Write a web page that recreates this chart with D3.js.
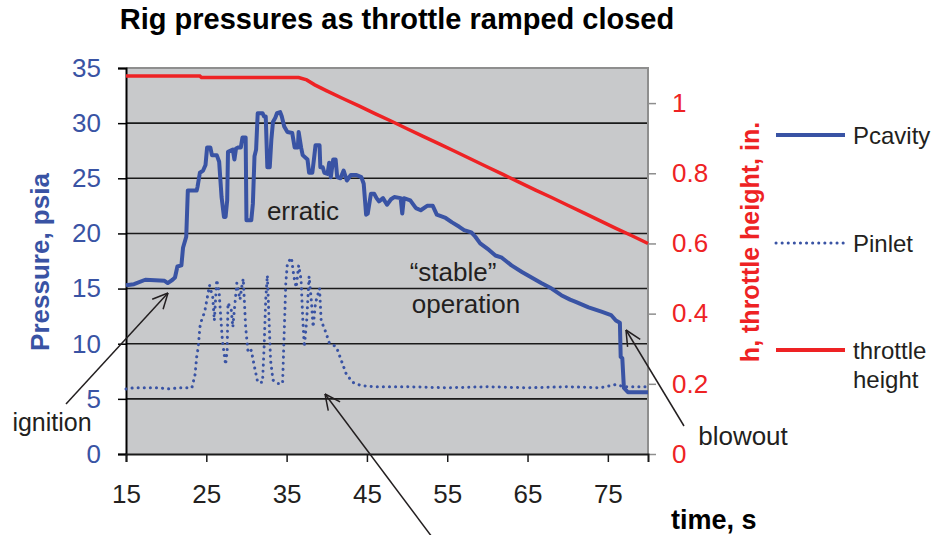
<!DOCTYPE html>
<html>
<head>
<meta charset="utf-8">
<script src="https://cdn.jsdelivr.net/npm/d3@7"></script>
<style>
  body { margin: 0; background: #fff; }
  svg { font-family: "Liberation Sans", Arial, sans-serif; }
</style>
</head>
<body>
<div id="chart"></div>
<script>
// values
const pcTime = [15.0,16.0,17.4,19.8,20.2,20.8,21.1,21.4,21.9,22.1,22.5,22.7,23.8,23.9,24.2,24.6,24.9,25.1,25.5,25.7,26.3,26.6,26.9,27.2,27.4,27.6,27.7,28.3,28.5,28.7,29.0,29.3,29.5,29.9,30.0,30.6,30.8,31.0,31.2,31.4,32.0,32.2,32.4,32.6,32.9,33.1,33.3,33.6,33.8,34.2,34.4,34.7,35.1,35.7,36.0,36.4,36.5,36.8,37.0,37.6,37.8,38.2,38.4,38.6,39.1,39.2,39.5,39.7,40.1,40.3,40.5,40.8,41.1,41.3,41.7,42.1,42.5,43.0,43.7,44.3,44.6,44.9,45.1,45.5,45.9,46.2,46.5,47.0,47.5,48.0,48.4,49.2,49.4,49.6,50.4,51.1,51.7,52.5,53.2,53.7,54.8,55.6,56.5,57.1,58.0,58.5,59.1,60.2,61.0,61.8,63.0,64.3,65.5,66.7,68.0,69.2,70.3,71.0,72.6,74.2,75.4,76.0,76.5,76.6,76.8,77.0,77.5,80.0];
const pcValue = [15.3,15.4,15.8,15.7,15.5,15.8,16.0,17.0,17.1,18.7,19.7,23.9,23.9,24.2,25.5,25.7,26.2,27.8,27.8,27.1,27.1,26.5,23.3,21.5,21.5,23.0,27.4,27.6,26.7,27.7,27.8,27.8,28.7,28.7,21.2,21.2,22.7,27.0,27.6,30.9,30.9,30.6,30.6,26.0,26.0,28.5,30.1,30.5,30.9,31.0,30.6,29.7,29.2,29.1,27.8,27.8,29.2,27.8,27.1,26.7,25.5,25.5,26.7,28.0,28.0,26.0,26.0,25.5,25.4,26.4,25.1,26.7,26.7,25.1,25.0,25.7,24.8,25.3,25.3,25.1,24.5,21.7,21.8,23.6,23.6,23.2,22.9,23.2,22.6,23.1,23.3,23.2,21.8,23.2,23.0,22.3,22.1,22.5,22.5,21.7,21.4,21.0,20.6,20.3,20.1,19.7,19.1,18.5,18.0,17.8,17.1,16.5,16.0,15.5,15.0,14.4,14.0,13.8,13.3,12.9,12.6,12.1,11.9,8.8,8.7,6.0,5.6,5.6];

const piTime = [15.0,16.0,17.5,19.0,20.5,21.5,23.2,23.6,23.8,24.0,24.2,24.4,24.8,25.0,25.4,25.8,26.0,26.3,26.6,26.8,27.0,27.4,27.6,27.7,28.1,28.3,28.5,28.8,29.2,29.4,29.6,29.9,30.2,30.6,31.0,31.4,32.0,32.2,32.4,32.6,32.8,33.0,33.3,33.9,34.5,34.7,34.9,35.1,35.6,35.9,36.2,36.5,36.8,37.0,37.2,37.5,37.8,38.1,38.3,38.6,39.1,39.3,39.9,40.3,41.2,41.8,42.4,43.2,44.3,46.0,50.0,55.0,60.0,65.0,70.0,74.0,76.0,77.0,80.0];
const piValue = [5.9,6.0,6.0,6.0,5.9,6.0,6.0,7.2,8.8,9.7,11.5,12.1,12.9,13.7,15.3,14.2,12.1,15.8,14.6,12.4,10.3,8.1,9.4,13.7,13.1,11.5,13.1,15.5,14.0,15.1,15.9,11.5,9.2,9.4,7.9,6.5,6.5,9.7,14.0,16.2,12.4,8.5,6.7,6.4,6.4,11.0,15.5,17.3,17.8,16.1,15.1,17.1,15.8,12.4,9.7,12.1,16.1,13.7,11.5,13.7,15.0,12.1,11.0,10.1,9.7,8.5,7.3,6.5,6.2,6.1,6.1,6.0,6.1,6.0,6.1,6.0,6.3,6.1,6.1];

const thTime = [15,24.2,24.4,36.5,37.5,38.5,40,42,44,46,48,50,52,54,56,58,60,62,64,66,68,70,72,74,76,78,80];
const thValue = [1.077,1.077,1.073,1.073,1.066,1.052,1.035,1.013,0.992,0.970,0.949,0.927,0.905,0.884,0.862,0.840,0.818,0.796,0.774,0.752,0.731,0.709,0.687,0.665,0.643,0.622,0.600];

const xTicks = [15,25,35,45,55,65,75];
const yTicks = [0,5,10,15,20,25,30,35];
const y2Ticks = [0,0.2,0.4,0.6,0.8,1];
const y2Labels = ["0","0.2","0.4","0.6","0.8","1"];

const W = 934, H = 535;
const margin = { top: 68, right: 286, bottom: 81, left: 126 };
const blue = "#3953a4", red = "#ee2224", ink = "#231f20";

const svg = d3.select("#chart").append("svg")
  .attr("width", W).attr("height", H);

const x = d3.scaleLinear().domain([15, 80]).range([margin.left, W - margin.right]);
const y = d3.scaleLinear().domain([0, 35]).range([H - margin.bottom, margin.top]);
const y2 = d3.scaleLinear().domain([0, 1.1]).range([H - margin.bottom, margin.top]);

// plot area
svg.append("rect")
  .attr("x", x(15)).attr("y", y(35))
  .attr("width", x(80) - x(15)).attr("height", y(0) - y(35))
  .attr("fill", "#c8c9cb");

// grid lines
svg.append("g").selectAll("line")
  .data(yTicks.filter(d => d > 0 && d < 35))
  .join("line")
  .attr("x1", x(15)).attr("x2", x(80))
  .attr("y1", d => y(d)).attr("y2", d => y(d))
  .attr("stroke", "#1a1a1a").attr("stroke-width", 1.6);

// top and right border
svg.append("path")
  .attr("d", `M${x(15)},${y(35)}H${x(80)}V${y(0)}`)
  .attr("fill", "none").attr("stroke", "#8e8e8e").attr("stroke-width", 2);

// left axis
const yAxis = svg.append("g")
  .attr("transform", `translate(${x(15)},0)`)
  .call(d3.axisLeft(y).tickValues(yTicks).tickSize(8).tickPadding(17));
yAxis.select(".domain").attr("stroke", "#000").attr("stroke-width", 2);
yAxis.selectAll(".tick line").attr("stroke", "#000").attr("stroke-width", 1.5);
yAxis.selectAll("text").attr("fill", blue).attr("font-size", 26)
  .attr("font-family", "Liberation Sans, Arial, sans-serif");

// right axis
const y2Axis = svg.append("g")
  .attr("transform", `translate(${x(80)},0)`)
  .call(d3.axisRight(y2).tickValues(y2Ticks).tickSize(8).tickPadding(16)
    .tickFormat((d, i) => y2Labels[i]));
y2Axis.select(".domain").remove();
y2Axis.selectAll(".tick line").attr("stroke", "#8e8e8e").attr("stroke-width", 1.5);
y2Axis.selectAll("text").attr("fill", red).attr("font-size", 26)
  .attr("font-family", "Liberation Sans, Arial, sans-serif");

// bottom axis
const xAxis = svg.append("g")
  .attr("transform", `translate(0,${y(0)})`)
  .call(d3.axisBottom(x).tickValues(xTicks).tickSize(8).tickPadding(23));
xAxis.select(".domain").attr("stroke", "#1a1a1a").attr("stroke-width", 2);
xAxis.selectAll(".tick line").attr("stroke", "#1a1a1a").attr("stroke-width", 1.5);
xAxis.selectAll("text").attr("fill", ink).attr("font-size", 26)
  .attr("font-family", "Liberation Sans, Arial, sans-serif");

// series
const pcData = pcTime.map((t, i) => [t, pcValue[i]]);
const piData = piTime.map((t, i) => [t, piValue[i]]);
const thData = thTime.map((t, i) => [t, thValue[i]]);

const line = d3.line().x(d => x(d[0])).y(d => y(d[1]));
const line2 = d3.line().x(d => x(d[0])).y(d => y2(d[1]));

svg.append("path").datum(thData)
  .attr("d", line2).attr("fill", "none")
  .attr("stroke", red).attr("stroke-width", 3.5);

svg.append("path").datum(piData)
  .attr("d", line).attr("fill", "none")
  .attr("stroke", blue).attr("stroke-width", 3)
  .attr("stroke-linecap", "round").attr("stroke-dasharray", "0.1,6");

svg.append("path").datum(pcData)
  .attr("d", line).attr("fill", "none")
  .attr("stroke", blue).attr("stroke-width", 4)
  .attr("stroke-linejoin", "round");

// titles
svg.append("text")
  .attr("x", 397).attr("y", 29).attr("text-anchor", "middle")
  .attr("font-size", 29).attr("font-weight", "bold").attr("fill", "#000")
  .text("Rig pressures as throttle ramped closed");

svg.append("text")
  .attr("transform", `translate(49,262) rotate(-90)`)
  .attr("text-anchor", "middle")
  .attr("font-size", 26).attr("font-weight", "bold").attr("fill", blue)
  .text("Pressure, psia");

svg.append("text")
  .attr("transform", `translate(759,242) rotate(-90)`)
  .attr("text-anchor", "middle")
  .attr("font-size", 25).attr("font-weight", "bold").attr("fill", red)
  .text("h, throttle height, in.");

svg.append("text")
  .attr("x", 671).attr("y", 529)
  .attr("font-size", 27).attr("font-weight", "bold").attr("fill", "#000")
  .text("time, s");

// legend
const legend = [
  { name: ["Pcavity"], color: blue, dash: null, y: 135 },
  { name: ["Pinlet"], color: blue, dash: "0.1,6", y: 243 },
  { name: ["throttle", "height"], color: red, dash: null, y: 350 }
];
const lg = svg.append("g").selectAll("g").data(legend).join("g");
lg.append("line")
  .attr("x1", 776).attr("x2", 845)
  .attr("y1", d => d.y).attr("y2", d => d.y)
  .attr("stroke", d => d.color).attr("stroke-width", d => d.dash ? 3 : 4)
  .attr("stroke-linecap", d => d.dash ? "round" : "butt")
  .attr("stroke-dasharray", d => d.dash);
lg.append("text")
  .attr("x", 853).attr("y", d => d.y + 9)
  .attr("font-size", 24).attr("fill", ink)
  .selectAll("tspan").data(d => d.name).join("tspan")
  .attr("x", 853).attr("dy", (d, i) => i ? 29 : 0)
  .text(d => d);

// annotations
const notes = [
  { text: "erratic", x: 303, y: 220, size: 26 },
  { text: "\u201cstable\u201d", x: 453, y: 281, size: 26 },
  { text: "operation", x: 466, y: 313, size: 26 },
  { text: "ignition", x: 52, y: 431, size: 25 },
  { text: "blowout", x: 743, y: 445, size: 26 }
];
svg.append("g").selectAll("text").data(notes).join("text")
  .attr("x", d => d.x).attr("y", d => d.y).attr("text-anchor", "middle")
  .attr("font-size", d => d.size).attr("fill", ink)
  .text(d => d.text);

const arrows = [
  { from: [66, 404], to: [168, 293] },
  { from: [432, 537], to: [325, 394] },
  { from: [684, 426], to: [626, 330] }
];
const ag = svg.append("g").attr("stroke", ink).attr("stroke-width", 1.5).attr("fill", "none");
arrows.forEach(a => {
  ag.append("line")
    .attr("x1", a.from[0]).attr("y1", a.from[1])
    .attr("x2", a.to[0]).attr("y2", a.to[1]);
  const ang = Math.atan2(a.from[1] - a.to[1], a.from[0] - a.to[0]);
  [-0.45, 0.45].forEach(o => {
    ag.append("line")
      .attr("x1", a.to[0]).attr("y1", a.to[1])
      .attr("x2", a.to[0] + 17 * Math.cos(ang + o))
      .attr("y2", a.to[1] + 17 * Math.sin(ang + o));
  });
});
</script>
</body>
</html>
